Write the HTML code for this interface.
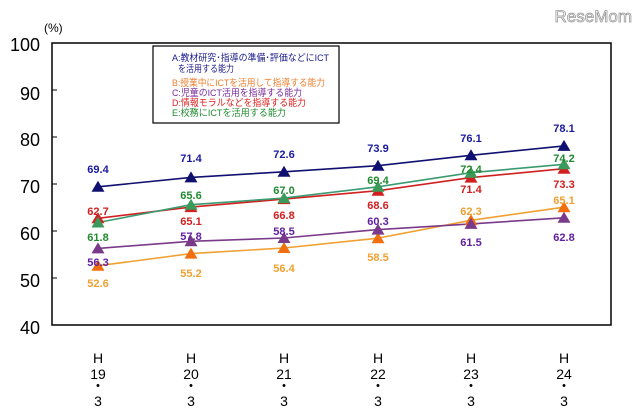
<!DOCTYPE html>
<html><head><meta charset="utf-8"><style>
html,body{margin:0;padding:0;background:#fff;}
svg{display:block;}
</style></head><body>
<svg width="640" height="419" viewBox="0 0 640 419" xmlns="http://www.w3.org/2000/svg" font-family="'Liberation Sans','Noto Sans CJK JP',sans-serif">
<text x="632" y="22" font-size="17" fill="#fff" stroke="#999" stroke-width="0.8" text-anchor="end">ReseMom</text>
<text x="44" y="32" font-size="12" fill="#000">(%)</text>
<rect x="52" y="43" width="559" height="282" fill="none" stroke="#000" stroke-width="1.5"/>
<g font-size="18" fill="#000" text-anchor="end">
<text x="40" y="51">100</text><text x="40" y="100">90</text><text x="40" y="146">80</text>
<text x="40" y="193">70</text><text x="40" y="240">60</text><text x="40" y="287">50</text><text x="40" y="334">40</text>
</g>
<g stroke="#000" stroke-width="1">
<line x1="52" y1="90" x2="57" y2="90"/><line x1="52" y1="137" x2="57" y2="137"/><line x1="52" y1="184" x2="57" y2="184"/>
<line x1="52" y1="231" x2="57" y2="231"/><line x1="52" y1="278" x2="57" y2="278"/>
</g>
<g font-size="14" fill="#000" text-anchor="middle">
<text x="98" y="363">H</text><text x="98" y="379">19</text><text x="98" y="391">・</text><text x="98" y="406">3</text>
<text x="191" y="363">H</text><text x="191" y="379">20</text><text x="191" y="391">・</text><text x="191" y="406">3</text>
<text x="284" y="363">H</text><text x="284" y="379">21</text><text x="284" y="391">・</text><text x="284" y="406">3</text>
<text x="378" y="363">H</text><text x="378" y="379">22</text><text x="378" y="391">・</text><text x="378" y="406">3</text>
<text x="471" y="363">H</text><text x="471" y="379">23</text><text x="471" y="391">・</text><text x="471" y="406">3</text>
<text x="564" y="363">H</text><text x="564" y="379">24</text><text x="564" y="391">・</text><text x="564" y="406">3</text>
</g>
<rect x="153" y="46" width="186" height="77" fill="#fff" stroke="#000" stroke-width="1.2"/>
<g font-size="9.5" lengthAdjust="spacingAndGlyphs">
<text x="172" y="61" fill="#1a1a8a" textLength="157" lengthAdjust="spacingAndGlyphs">A:教材研究･指導の準備･評価などにICT</text>
<text x="178" y="72" fill="#1a1a8a" textLength="56" lengthAdjust="spacingAndGlyphs">を活用する能力</text>
<text x="172" y="86" fill="#f08030" textLength="153" lengthAdjust="spacingAndGlyphs">B:授業中にICTを活用して指導する能力</text>
<text x="172" y="96" fill="#7a2a9a" textLength="130" lengthAdjust="spacingAndGlyphs">C:児童のICT活用を指導する能力</text>
<text x="172" y="106" fill="#e02020" textLength="134" lengthAdjust="spacingAndGlyphs">D:情報モラルなどを指導する能力</text>
<text x="172" y="116" fill="#208a30" textLength="114" lengthAdjust="spacingAndGlyphs">E:校務にICTを活用する能力</text>
</g>
<g fill="none" stroke-width="1.6">
<polyline stroke="#f0a030" points="98,265.8 191,253.6 284,248 378,238.2 471,220.3 564,207.2"/>
<polyline stroke="#7a3a8a" points="98,248.4 191,241.3 284,238 378,229.6 471,223.9 564,217.8"/>
<polyline stroke="#d02020" points="98,218.3 191,207.1 284,199.1 378,190.7 471,177.6 564,168.7"/>
<polyline stroke="#3a9a70" points="98,222.5 191,204.7 284,198.1 378,186.8 471,172.7 564,164.3"/>
<polyline stroke="#101070" points="98,186.8 191,177.4 284,171.8 378,165.7 471,155.3 564,145.9"/>
</g>
<defs><path id="t" d="M0,-6 L6.5,5 L-6.5,5Z"/></defs>
<g fill="#f07010"><use href="#t" x="98" y="265.8"/><use href="#t" x="191" y="253.6"/><use href="#t" x="284" y="248"/><use href="#t" x="378" y="238.2"/><use href="#t" x="471" y="220.3"/><use href="#t" x="564" y="207.2"/></g>
<g fill="#7a3a8a"><use href="#t" x="98" y="248.4"/><use href="#t" x="191" y="241.3"/><use href="#t" x="284" y="238"/><use href="#t" x="378" y="229.6"/><use href="#t" x="471" y="223.9"/><use href="#t" x="564" y="217.8"/></g>
<g fill="#d02020"><use href="#t" x="98" y="218.3"/><use href="#t" x="191" y="207.1"/><use href="#t" x="284" y="199.1"/><use href="#t" x="378" y="190.7"/><use href="#t" x="471" y="177.6"/><use href="#t" x="564" y="168.7"/></g>
<g fill="#3a9a5a"><use href="#t" x="98" y="222.5"/><use href="#t" x="191" y="204.7"/><use href="#t" x="284" y="198.1"/><use href="#t" x="378" y="186.8"/><use href="#t" x="471" y="172.7"/><use href="#t" x="564" y="164.3"/></g>
<g fill="#101070"><use href="#t" x="98" y="186.8"/><use href="#t" x="191" y="177.4"/><use href="#t" x="284" y="171.8"/><use href="#t" x="378" y="165.7"/><use href="#t" x="471" y="155.3"/><use href="#t" x="564" y="145.9"/></g>
<g font-size="11" font-weight="bold" text-anchor="middle">
<g fill="#1a1aa0"><text x="98" y="173">69.4</text><text x="191" y="162">71.4</text><text x="284" y="158">72.6</text><text x="378" y="152">73.9</text><text x="471" y="142">76.1</text><text x="564" y="132">78.1</text></g>
<g fill="#f0a030"><text x="98" y="287">52.6</text><text x="191" y="277">55.2</text><text x="284" y="272">56.4</text><text x="378" y="261">58.5</text><text x="471" y="215">62.3</text><text x="564" y="204">65.1</text></g>
<g fill="#6020a0"><text x="98" y="266">56.3</text><text x="191" y="240">57.8</text><text x="284" y="235">58.5</text><text x="378" y="225">60.3</text><text x="471" y="246">61.5</text><text x="564" y="241">62.8</text></g>
<g fill="#d02020"><text x="98" y="215">62.7</text><text x="191" y="225">65.1</text><text x="284" y="219">66.8</text><text x="378" y="209">68.6</text><text x="471" y="193">71.4</text><text x="564" y="188">73.3</text></g>
<g fill="#208a30"><text x="98" y="241">61.8</text><text x="191" y="199">65.6</text><text x="284" y="194">67.0</text><text x="378" y="184">69.4</text><text x="471" y="173">72.4</text><text x="564" y="162">74.2</text></g>
</g>
</svg>
</body></html>
